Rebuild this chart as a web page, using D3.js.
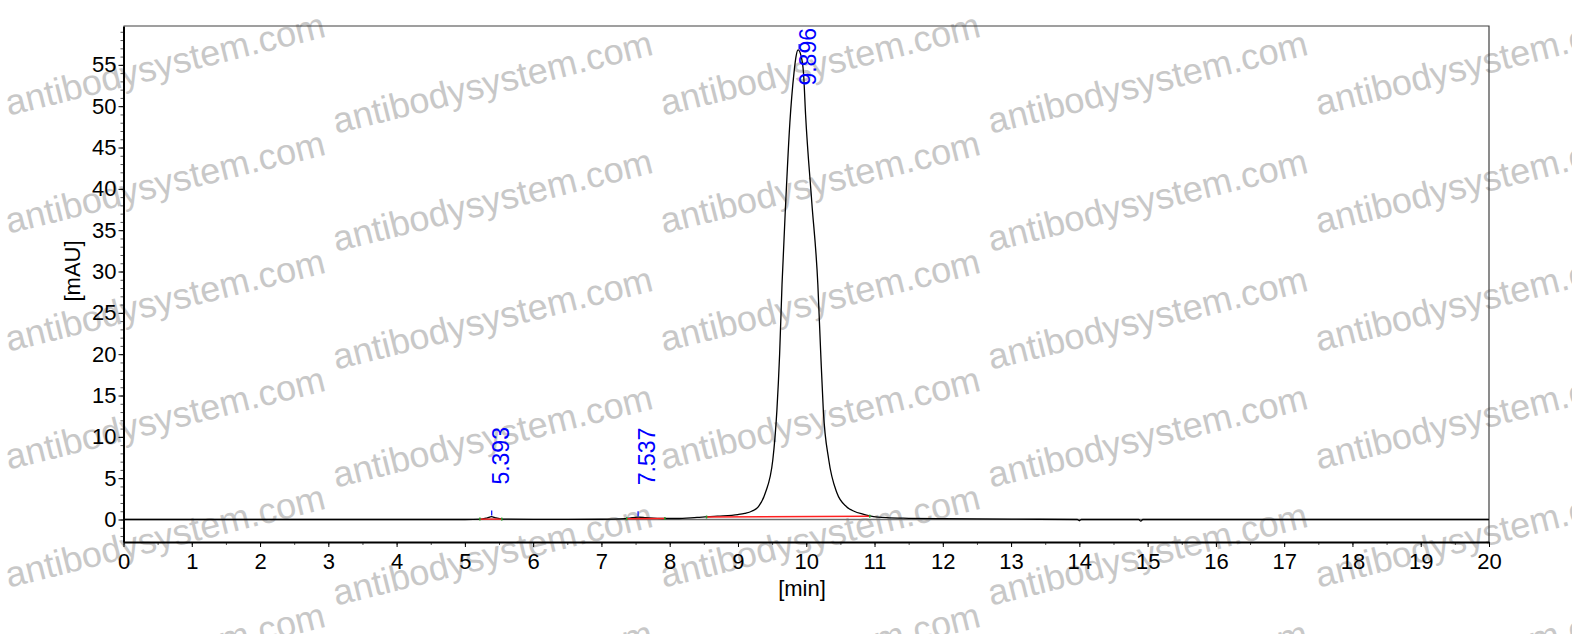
<!DOCTYPE html>
<html>
<head>
<meta charset="utf-8">
<script src="https://cdn.jsdelivr.net/npm/d3@7"></script>
<style>
  body { margin: 0; background: #fff; }
  svg { display: block; font-family: Arial, "Liberation Sans", sans-serif; }
</style>
</head>
<body>
<div id="chart"></div>
<script>
var svgWidth = 1572;
var svgHeight = 634;

var margin = { top: 26, right: 83, bottom: 92, left: 123.5 };
var width = svgWidth - margin.left - margin.right;
var height = svgHeight - margin.top - margin.bottom;

// chromatogram trace: time [min] and signal [mAU]
var times = [0, 5.0, 5.25, 5.33, 5.39, 5.45, 5.55, 6.0, 7.0, 7.35, 7.45, 7.54, 7.65, 7.9,
  8.1, 8.4, 8.7, 9.0, 9.1, 9.2, 9.3, 9.4, 9.51, 9.57, 9.61, 9.645, 9.7, 9.76, 9.82, 9.85,
  9.88, 9.92, 9.96, 9.99, 10.08, 10.17, 10.21, 10.25, 10.33, 10.45, 10.59, 10.7, 10.83,
  10.93, 11.05, 11.18, 11.5, 12.0, 13.0, 13.97, 14.0, 14.03, 14.87, 14.9, 14.93, 16.0, 20.0];
var signal = [0, 0, 0.05, 0.2, 0.35, 0.2, 0.05, 0.02, 0.03, 0.1, 0.22, 0.28, 0.22, 0.12,
  0.12, 0.25, 0.4, 0.6, 0.75, 1.0, 1.55, 3.2, 7.2, 13.2, 20.0, 28.4, 38.5, 48, 54, 56,
  56.8, 56.2, 54, 49, 38.5, 28.4, 20.5, 13.2, 7.2, 3.2, 1.55, 1.0, 0.65,
  0.45, 0.3, 0.22, 0.15, 0.1, 0.05, 0, -0.15, 0, 0, -0.2, 0, 0, 0];

// integrated peaks
var peakTimes = [5.393, 7.537, 9.896];
var peakHeights = [0.35, 0.28, 56.8];
var peakLabels = ["5.393", "7.537", "9.896"];

// integration baselines
var baseStart = [5.22, 7.37, 8.54];
var baseEnd = [5.54, 7.93, 10.93];
var baseStartVal = [0.05, 0.1, 0.3];
var baseEndVal = [0.05, 0.12, 0.4];

var xTicks = d3.range(0, 21, 1);
var yTicks = d3.range(0, 56, 5);
var xMinor = d3.range(0, 20.01, 0.5);
var yMinor = d3.range(-2, 60, 1);

var svg = d3.select("#chart")
  .append("svg")
  .attr("width", svgWidth)
  .attr("height", svgHeight);

svg.append("rect")
  .attr("width", svgWidth)
  .attr("height", svgHeight)
  .attr("fill", "#fff");

// watermark
var wm = svg.append("g");
for (var i = 0; i < 5; i++) {
  for (var j = 0; j < 6; j++) {
    var cx = 165 + 327.5 * i;
    var cy = 64 + 118 * j + (i % 2 ? 18 : 0);
    wm.append("text")
      .attr("transform", `translate(${cx}, ${cy}) rotate(-14)`)
      .attr("text-anchor", "middle")
      .attr("dominant-baseline", "central")
      .attr("font-size", 36)
      .attr("fill", "#c8c8c8")
      .text("antibodysystem.com");
  }
}

var chartGroup = svg.append("g")
  .attr("transform", `translate(${margin.left}, ${margin.top})`);

var xScale = d3.scaleLinear().domain([0, 20]).range([0, width]);
var yScale = d3.scaleLinear().domain([-2.72, 59.7]).range([height, 0]);

// frame top and right
chartGroup.append("path")
  .attr("d", `M0,0H${width}V${height}`)
  .attr("fill", "none")
  .attr("stroke", "#404040")
  .attr("stroke-width", 1.2);

// zero line
chartGroup.append("line")
  .attr("x1", 0).attr("x2", width)
  .attr("y1", yScale(0)).attr("y2", yScale(0))
  .attr("stroke", "#6e6e6e")
  .attr("stroke-width", 1.6);

// minor ticks
chartGroup.append("g")
  .attr("transform", `translate(0, ${height})`)
  .call(d3.axisBottom(xScale).tickValues(xMinor).tickSize(3).tickFormat(""))
  .call(g => g.select(".domain").remove())
  .call(g => g.selectAll("line").attr("stroke", "#555"));

chartGroup.append("g")
  .call(d3.axisLeft(yScale).tickValues(yMinor).tickSize(3).tickFormat(""))
  .call(g => g.select(".domain").remove())
  .call(g => g.selectAll("line").attr("stroke", "#555"));

// main axes
var bottomAxis = d3.axisBottom(xScale)
  .tickValues(xTicks).tickSize(5).tickSizeOuter(0).tickPadding(6)
  .tickFormat(d3.format("d"));
var leftAxis = d3.axisLeft(yScale)
  .tickValues(yTicks).tickSize(5).tickSizeOuter(0).tickPadding(2)
  .tickFormat(d3.format("d"));

chartGroup.append("g")
  .attr("transform", `translate(0, ${height})`)
  .call(bottomAxis)
  .call(g => g.select(".domain").attr("stroke", "#000").attr("stroke-width", 2))
  .call(g => g.selectAll("text").attr("font-size", 22).attr("fill", "#000")
    .attr("font-family", "Arial, 'Liberation Sans', sans-serif"));

chartGroup.append("g")
  .call(leftAxis)
  .call(g => g.select(".domain").attr("stroke", "#000").attr("stroke-width", 2))
  .call(g => g.selectAll("text").attr("font-size", 22).attr("fill", "#000")
    .attr("font-family", "Arial, 'Liberation Sans', sans-serif"));

// axis titles
svg.append("text")
  .attr("transform", "translate(80, 271) rotate(-90)")
  .attr("text-anchor", "middle")
  .attr("font-size", 22)
  .text("[mAU]");

svg.append("text")
  .attr("x", 802)
  .attr("y", 596)
  .attr("text-anchor", "middle")
  .attr("font-size", 22)
  .text("[min]");

// trace
var trace = times.map((t, k) => [t, signal[k]]);
var line = d3.line()
  .x(d => xScale(d[0]))
  .y(d => yScale(d[1]))
  .curve(d3.curveMonotoneX);

chartGroup.append("path")
  .datum(trace)
  .attr("d", line)
  .attr("fill", "none")
  .attr("stroke", "#000")
  .attr("stroke-width", 1.3);

// integration baselines
baseStart.forEach(function(t0, k) {
  chartGroup.append("line")
    .attr("x1", xScale(t0)).attr("y1", yScale(baseStartVal[k]))
    .attr("x2", xScale(baseEnd[k])).attr("y2", yScale(baseEndVal[k]))
    .attr("stroke", "#ff2020")
    .attr("stroke-width", 1.4);
  [[t0, baseStartVal[k]], [baseEnd[k], baseEndVal[k]]].forEach(function(p) {
    chartGroup.append("line")
      .attr("x1", xScale(p[0])).attr("x2", xScale(p[0]))
      .attr("y1", yScale(p[1]) - 1.5).attr("y2", yScale(p[1]) + 1.5)
      .attr("stroke", "#2a9d2a")
      .attr("stroke-width", 1.5);
  });
});

// peak markers and labels
peakTimes.forEach(function(t, k) {
  var px = xScale(t);
  var py = yScale(peakHeights[k]);
  chartGroup.append("line")
    .attr("x1", px).attr("x2", px)
    .attr("y1", py - 1).attr("y2", py - 6)
    .attr("stroke", "#0000ff")
    .attr("stroke-width", 1.2);

  var label = chartGroup.append("text")
    .attr("font-size", 23)
    .attr("fill", "#0000ff")
    .attr("text-anchor", "start")
    .text(peakLabels[k]);
  var len = label.node().getComputedTextLength();
  var pos = py - 32;
  if (pos - len < 2) {
    pos = 2;
    label.attr("text-anchor", "end");
  }
  label.attr("transform", `translate(${px + 17}, ${pos}) rotate(-90)`);
});
</script>
</body>
</html>
